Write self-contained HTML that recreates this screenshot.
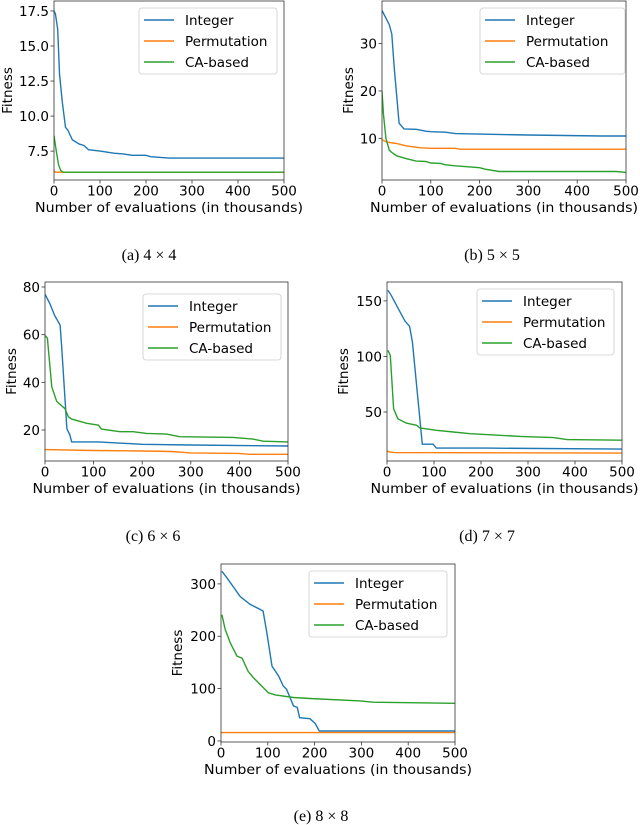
<!DOCTYPE html>
<html><head><meta charset="utf-8"><style>
html,body{margin:0;padding:0;background:#fff;}
svg{display:block;}
</style></head><body>
<svg id="fig" width="640" height="825" viewBox="0 0 640 825" xmlns="http://www.w3.org/2000/svg"></svg>
<script>
// Panel data: [evaluations (thousands), fitness]
const a_integer=[[0,17.5],[3,17.3],[8,16.2],[12,13],[18,11],[25,9.2],[30,9.0],[40,8.3],[55,8.0],[65,7.9],[75,7.6],[100,7.5],[130,7.35],[150,7.3],[170,7.2],[200,7.2],[210,7.1],[250,7.0],[500,7.0]];
const a_permutation=[[0,6.1],[3,6.0],[10,6.0],[500,6.0]];
const a_ca=[[0,8.6],[5,7.5],[10,6.5],[15,6.1],[20,6.0],[500,6.0]];
const b_integer=[[0,37],[5,36],[15,34],[20,32],[25,25],[35,13.2],[45,12],[70,11.9],[90,11.5],[100,11.4],[130,11.3],[150,11.0],[200,10.9],[300,10.7],[450,10.5],[500,10.5]];
const b_permutation=[[0,9.7],[10,9.2],[30,8.9],[50,8.4],[80,8.0],[100,7.9],[150,7.9],[160,7.7],[500,7.7]];
const b_ca=[[0,20],[3,15],[8,10],[15,7.5],[20,7],[30,6.3],[50,5.7],[70,5.2],[90,5.1],[100,4.8],[120,4.7],[130,4.4],[150,4.2],[200,3.8],[210,3.5],[240,3.0],[300,3.0],[480,3.0],[500,2.8]];
const c_integer=[[0,77],[10,73],[20,68],[31,64],[34,56],[45,20.5],[51,18],[55,15],[110,15],[200,14],[300,13.7],[500,13.3]];
const c_permutation=[[0,11.8],[100,11.4],[200,11.2],[260,11],[300,10.4],[400,10.2],[420,9.8],[500,9.8]];
const c_ca=[[0,59.7],[5,58.5],[14,38],[24,32],[41,29],[48,25.6],[55,24.6],[86,22.8],[110,22],[116,20.4],[154,19.3],[181,19.3],[209,18.6],[250,18.3],[277,17.2],[387,16.9],[428,16.2],[449,15.3],[500,15]];
const d_integer=[[2,159.6],[9,155],[24,143],[38,132],[48,127],[54,113],[63,74],[75,21],[98,21],[105,17.5],[212,17.5],[500,16.6]];
const d_permutation=[[0,15],[5,14],[15,13.5],[500,13]];
const d_ca=[[2,105.5],[7,101],[14,53],[23,44],[41,40],[63,38],[70,35.6],[105,33.5],[141,32],[177,30.5],[283,28],[354,27],[383,25.2],[500,24.6]];
const e_integer=[[2,324],[13,311],[41,276],[62,261],[84,251],[90,248],[98,206],[109,143],[123,124],[133,105],[140,99],[155,67],[163,64],[168,44.5],[190,42.6],[201,33.7],[210,19],[500,19]];
const e_permutation=[[0,16],[500,16]];
const e_ca=[[2,241],[9,213],[20,187],[34,162],[45,158],[58,133],[69,121],[87,105],[101,92],[116,88],[155,83],[190,81],[297,76.6],[325,74],[500,72]];
const xTicks=[0,100,200,300,400,500];
const a_yTicks=[7.5,10,12.5,15,17.5];
const b_yTicks=[10,20,30];
const c_yTicks=[20,40,60,80];
const d_yTicks=[50,100,150];
const e_yTicks=[0,100,200,300];
const seriesNames=["Integer","Permutation","CA-based"];
const colors=["#1f77b4","#ff7f0e","#2ca02c"];

const NS="http://www.w3.org/2000/svg";
const fig=document.getElementById('fig');
function mk(tag,attrs,parent){const e=document.createElementNS(NS,tag);for(const k in attrs)e.setAttribute(k,attrs[k]);(parent||fig).appendChild(e);return e;}

const panels=[
 {id:'a',L:54,R:284,T:1,B:180,ymin:5.44,ymax:18.21,yt:a_yTicks,fmt:v=>v.toFixed(1),s:[a_integer,a_permutation,a_ca],leg:[139,8,138],fy:8,cap:'(a) 4 × 4',cx:149,cy:260},
 {id:'b',L:382,R:626,T:1,B:180,ymin:1.2,ymax:39,yt:b_yTicks,fmt:v=>String(v),s:[b_integer,b_permutation,b_ca],leg:[480,8,145],fy:349,cap:'(b) 5 × 5',cx:492,cy:260},
 {id:'c',L:45,R:288,T:282,B:461,ymin:7,ymax:82.1,yt:c_yTicks,fmt:v=>String(v),s:[c_integer,c_permutation,c_ca],leg:[143,294,138],fy:12,cap:'(c) 6 × 6',cx:153,cy:541},
 {id:'d',L:387,R:622,T:282,B:461,ymin:5.9,ymax:167,yt:d_yTicks,fmt:v=>String(v),s:[d_integer,d_permutation,d_ca],leg:[477,289,137],fy:344,cap:'(d) 7 × 7',cx:487,cy:541},
 {id:'e',L:221,R:455,T:564,B:742,ymin:-2,ymax:338,yt:e_yTicks,fmt:v=>String(v),s:[e_integer,e_permutation,e_ca],leg:[309,571,138],fy:178,cap:'(e) 8 × 8',cx:321,cy:821}
];
const FONT='"DejaVu Sans","Liberation Sans",sans-serif';
panels.forEach(p=>{
 const g=mk('g',{});
 
 
 const xs=v=>p.L+(v-0)/(500-0)*(p.R-p.L);
 const ys=v=>p.B-(v-p.ymin)/(p.ymax-p.ymin)*(p.B-p.T);
 const cp=mk('clipPath',{id:'clip-'+p.id},g);
 mk('rect',{x:p.L,y:p.T,width:p.R-p.L,height:p.B-p.T},cp);
 p.s.forEach((d,i)=>{
  const pl=mk('polyline',{points:d.map(q=>xs(q[0]).toFixed(1)+','+ys(q[1]).toFixed(1)).join(' '),fill:'none',stroke:colors[i],'stroke-width':1.4,'clip-path':'url(#clip-'+p.id+')'},g);
  
  
 });
 const fr=mk('rect',{x:p.L,y:p.T,width:p.R-p.L,height:p.B-p.T,fill:'none',stroke:'#333','stroke-width':0.8},g);
 
 
 xTicks.forEach(v=>{
  mk('line',{x1:xs(v),x2:xs(v),y1:p.B,y2:p.B+3.5,stroke:'#333','stroke-width':0.8},g);
  const t=mk('text',{x:xs(v),y:p.B+15.5,'text-anchor':'middle','font-size':13.5,'font-family':FONT,fill:'#000'},g);
  t.textContent=String(v);
  
  
 });
 p.yt.forEach(v=>{
  mk('line',{x1:p.L-3.5,x2:p.L,y1:ys(v),y2:ys(v),stroke:'#333','stroke-width':0.8},g);
  const t=mk('text',{x:p.L-5,y:ys(v)+5,'text-anchor':'end','font-size':13.5,'font-family':FONT,fill:'#000'},g);
  t.textContent=p.fmt(v);
  
  
 });
 const xl=mk('text',{x:(p.L+p.R)/2,y:p.B+32,'text-anchor':'middle','font-size':13.5,'font-family':FONT,fill:'#000',textLength:268,lengthAdjust:'spacingAndGlyphs'},g);
 xl.textContent='Number of evaluations (in thousands)';
 
 
 const yc=(p.T+p.B)/2;
 const yl=mk('text',{x:p.fy,y:yc,'text-anchor':'middle','dominant-baseline':'central','font-size':13.5,'font-family':FONT,fill:'#000',transform:'rotate(-90 '+p.fy+' '+yc+')'},g);
 yl.textContent='Fitness';
 
 
 const [lx,ly,lw]=p.leg;
 const lg=mk('g',{},g);
 
 
 mk('rect',{x:lx,y:ly,width:lw,height:66,rx:3,fill:'#fff','fill-opacity':0.8,stroke:'#ccc','stroke-width':0.8},lg);
 seriesNames.forEach((n,i)=>{
  const cyy=ly+12+i*21;
  mk('line',{x1:lx+5,x2:lx+35,y1:cyy,y2:cyy,stroke:colors[i],'stroke-width':1.4},lg);
  const t=mk('text',{x:lx+46,y:cyy+5,'font-size':13.5,'font-family':FONT,fill:'#000'},lg);
  t.textContent=n;
  
  
 });
 const cap=mk('text',{x:p.cx,y:p.cy,'text-anchor':'middle','font-size':16,'font-family':'"Liberation Serif",serif',fill:'#000'},g);
 cap.textContent=p.cap;
 
 
});
</script>
</body></html>
